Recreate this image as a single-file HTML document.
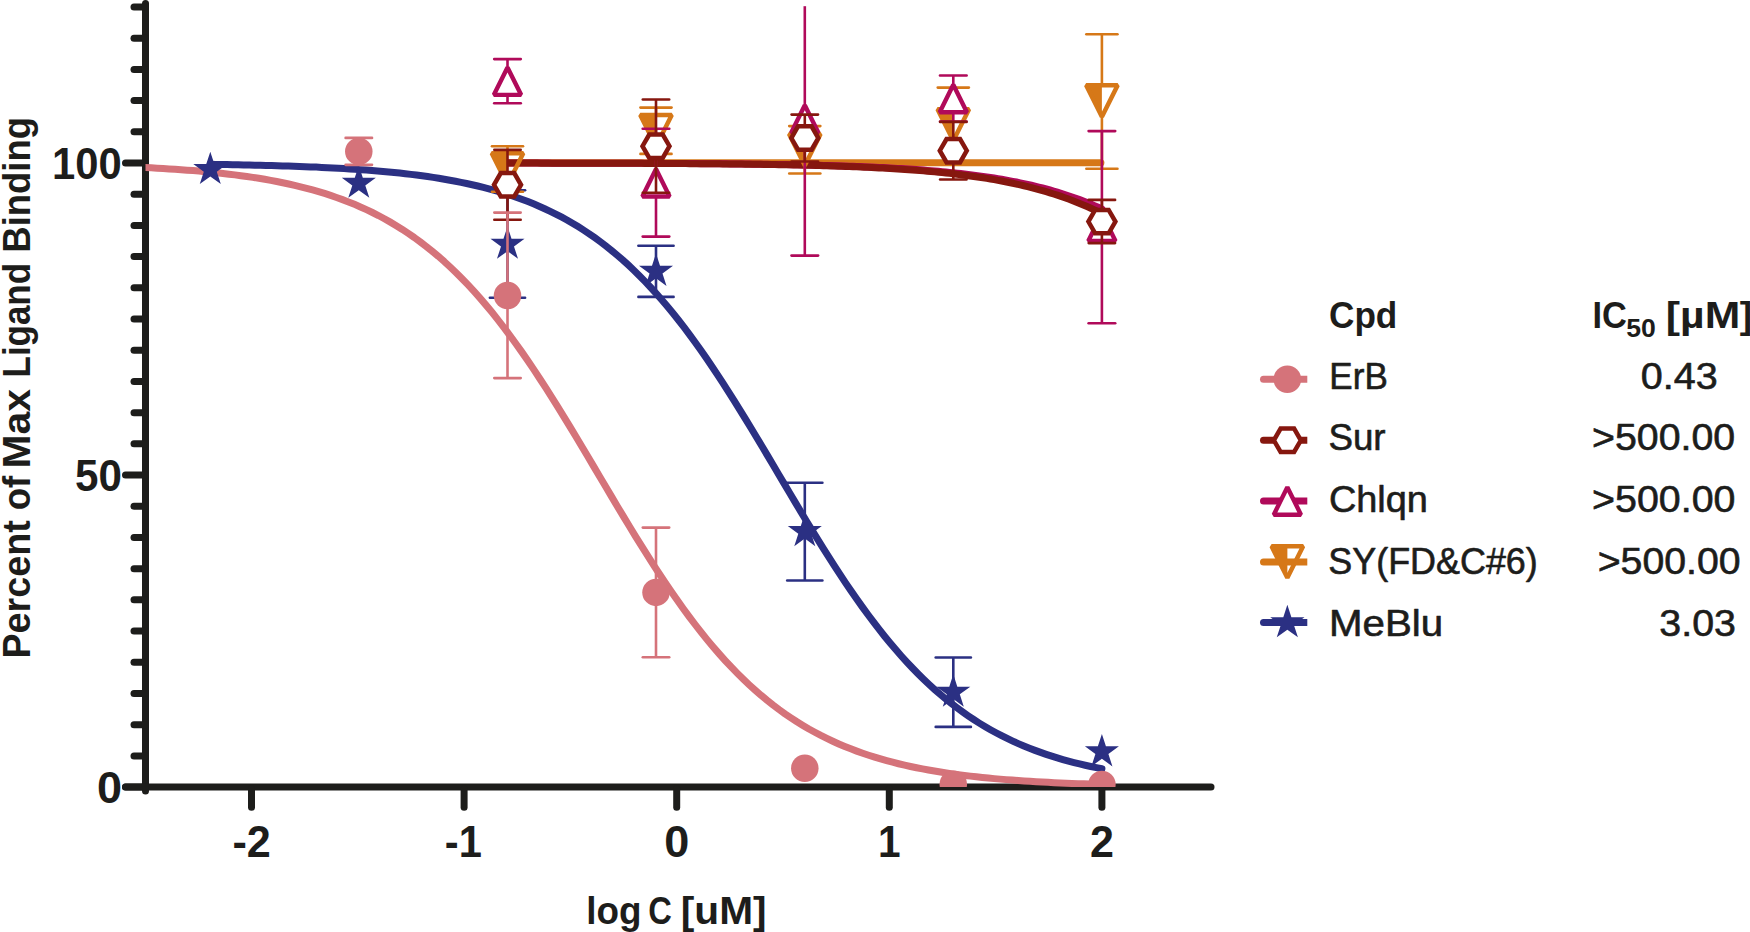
<!DOCTYPE html>
<html lang="en"><head><meta charset="utf-8"><title>Dose-response curves</title>
<style>html,body{margin:0;padding:0;background:#fff;overflow:hidden}svg{display:block}</style></head>
<body>
<svg width="1750" height="932" viewBox="0 0 1750 932">
<defs><clipPath id="plot"><rect x="145.5" y="-20" width="1200" height="807.10"/></clipPath></defs>
<rect width="1750" height="932" fill="#fff"/>
<g stroke="#1d1d1b" stroke-width="7.0" stroke-linecap="round" fill="none">
<line x1="145.5" y1="3.5" x2="145.5" y2="791.1"/>
<line x1="125.5" y1="787.1" x2="1211.0" y2="787.1"/>
<line x1="125.5" y1="787.10" x2="145.5" y2="787.10"/>
<line x1="134.0" y1="755.89" x2="145.5" y2="755.89"/>
<line x1="134.0" y1="724.69" x2="145.5" y2="724.69"/>
<line x1="134.0" y1="693.49" x2="145.5" y2="693.49"/>
<line x1="134.0" y1="662.28" x2="145.5" y2="662.28"/>
<line x1="134.0" y1="631.08" x2="145.5" y2="631.08"/>
<line x1="134.0" y1="599.87" x2="145.5" y2="599.87"/>
<line x1="134.0" y1="568.66" x2="145.5" y2="568.66"/>
<line x1="134.0" y1="537.46" x2="145.5" y2="537.46"/>
<line x1="134.0" y1="506.26" x2="145.5" y2="506.26"/>
<line x1="125.5" y1="475.05" x2="145.5" y2="475.05"/>
<line x1="134.0" y1="443.85" x2="145.5" y2="443.85"/>
<line x1="134.0" y1="412.64" x2="145.5" y2="412.64"/>
<line x1="134.0" y1="381.44" x2="145.5" y2="381.44"/>
<line x1="134.0" y1="350.23" x2="145.5" y2="350.23"/>
<line x1="134.0" y1="319.03" x2="145.5" y2="319.03"/>
<line x1="134.0" y1="287.82" x2="145.5" y2="287.82"/>
<line x1="134.0" y1="256.62" x2="145.5" y2="256.62"/>
<line x1="134.0" y1="225.41" x2="145.5" y2="225.41"/>
<line x1="134.0" y1="194.21" x2="145.5" y2="194.21"/>
<line x1="125.5" y1="163.00" x2="145.5" y2="163.00"/>
<line x1="134.0" y1="131.80" x2="145.5" y2="131.80"/>
<line x1="134.0" y1="100.59" x2="145.5" y2="100.59"/>
<line x1="134.0" y1="69.39" x2="145.5" y2="69.39"/>
<line x1="134.0" y1="38.18" x2="145.5" y2="38.18"/>
<line x1="134.0" y1="6.98" x2="145.5" y2="6.98"/>
<line x1="251.50" y1="789.1" x2="251.50" y2="807.3"/>
<line x1="464.10" y1="789.1" x2="464.10" y2="807.3"/>
<line x1="676.70" y1="789.1" x2="676.70" y2="807.3"/>
<line x1="889.30" y1="789.1" x2="889.30" y2="807.3"/>
<line x1="1101.90" y1="789.1" x2="1101.90" y2="807.3"/>
</g>
<g clip-path="url(#plot)">
<g fill="none" stroke-width="7.0" stroke-linecap="round" stroke-linejoin="round">
<path d="M210.29,164.32 L215.87,164.40 L221.44,164.48 L227.01,164.58 L232.58,164.67 L238.16,164.78 L243.73,164.89 L249.30,165.01 L254.87,165.13 L260.45,165.26 L266.02,165.40 L271.59,165.55 L277.16,165.71 L282.74,165.88 L288.31,166.05 L293.88,166.24 L299.45,166.44 L305.03,166.66 L310.60,166.88 L316.17,167.12 L321.74,167.38 L327.32,167.65 L332.89,167.93 L338.46,168.24 L344.03,168.56 L349.61,168.90 L355.18,169.27 L360.75,169.65 L366.32,170.06 L371.90,170.50 L377.47,170.96 L383.04,171.45 L388.62,171.96 L394.19,172.51 L399.76,173.10 L405.33,173.71 L410.91,174.37 L416.48,175.06 L422.05,175.80 L427.62,176.57 L433.20,177.40 L438.77,178.27 L444.34,179.20 L449.91,180.18 L455.49,181.22 L461.06,182.31 L466.63,183.48 L472.20,184.71 L477.78,186.01 L483.35,187.38 L488.92,188.84 L494.49,190.37 L500.07,192.00 L505.64,193.71 L511.21,195.52 L516.78,197.44 L522.36,199.45 L527.93,201.58 L533.50,203.82 L539.07,206.19 L544.65,208.68 L550.22,211.30 L555.79,214.06 L561.36,216.96 L566.94,220.01 L572.51,223.22 L578.08,226.58 L583.65,230.11 L589.23,233.81 L594.80,237.69 L600.37,241.75 L605.94,246.00 L611.52,250.44 L617.09,255.08 L622.66,259.91 L628.23,264.96 L633.81,270.21 L639.38,275.68 L644.95,281.36 L650.52,287.26 L656.10,293.37 L661.67,299.70 L667.24,306.26 L672.81,313.03 L678.39,320.01 L683.96,327.21 L689.53,334.62 L695.10,342.23 L700.68,350.04 L706.25,358.04 L711.82,366.22 L717.39,374.58 L722.97,383.10 L728.54,391.77 L734.11,400.58 L739.69,409.53 L745.26,418.58 L750.83,427.74 L756.40,436.98 L761.98,446.29 L767.55,455.65 L773.12,465.04 L778.69,474.45 L784.27,483.87 L789.84,493.27 L795.41,502.63 L800.98,511.95 L806.56,521.20 L812.13,530.36 L817.70,539.43 L823.27,548.39 L828.85,557.22 L834.42,565.91 L839.99,574.45 L845.56,582.83 L851.14,591.04 L856.71,599.06 L862.28,606.89 L867.85,614.53 L873.43,621.96 L879.00,629.19 L884.57,636.20 L890.14,643.00 L895.72,649.58 L901.29,655.94 L906.86,662.08 L912.43,668.01 L918.01,673.72 L923.58,679.21 L929.15,684.49 L934.72,689.56 L940.30,694.42 L945.87,699.09 L951.44,703.55 L957.01,707.82 L962.59,711.91 L968.16,715.81 L973.73,719.53 L979.30,723.08 L984.88,726.47 L990.45,729.69 L996.02,732.76 L1001.59,735.68 L1007.17,738.46 L1012.74,741.10 L1018.31,743.60 L1023.88,745.98 L1029.46,748.24 L1035.03,750.38 L1040.60,752.41 L1046.17,754.34 L1051.75,756.16 L1057.32,757.89 L1062.89,759.53 L1068.46,761.07 L1074.04,762.54 L1079.61,763.92 L1085.18,765.23 L1090.75,766.47 L1096.33,767.64 L1101.90,768.75" stroke="#2b3083"/>
<path d="M507.5,162.70 L1100.9,162.70" stroke="#d67818"/>
<path d="M507.50,163.08 L511.21,163.08 L514.93,163.09 L518.64,163.09 L522.36,163.09 L526.07,163.10 L529.79,163.10 L533.50,163.11 L537.22,163.11 L540.93,163.11 L544.65,163.12 L548.36,163.12 L552.08,163.13 L555.79,163.13 L559.51,163.14 L563.22,163.15 L566.94,163.15 L570.65,163.16 L574.37,163.16 L578.08,163.17 L581.80,163.18 L585.51,163.18 L589.23,163.19 L592.94,163.20 L596.66,163.21 L600.37,163.22 L604.09,163.23 L607.80,163.23 L611.52,163.24 L615.23,163.25 L618.95,163.27 L622.66,163.28 L626.38,163.29 L630.09,163.30 L633.81,163.31 L637.52,163.32 L641.24,163.34 L644.95,163.35 L648.67,163.37 L652.38,163.38 L656.10,163.40 L659.81,163.41 L663.53,163.43 L667.24,163.45 L670.96,163.47 L674.67,163.48 L678.39,163.50 L682.10,163.53 L685.82,163.55 L689.53,163.57 L693.25,163.59 L696.96,163.62 L700.68,163.64 L704.39,163.67 L708.11,163.70 L711.82,163.72 L715.54,163.75 L719.25,163.78 L722.97,163.82 L726.68,163.85 L730.40,163.89 L734.11,163.92 L737.83,163.96 L741.54,164.00 L745.26,164.04 L748.97,164.08 L752.69,164.13 L756.40,164.17 L760.12,164.22 L763.83,164.27 L767.55,164.32 L771.26,164.38 L774.98,164.43 L778.69,164.49 L782.41,164.55 L786.12,164.62 L789.84,164.68 L793.55,164.75 L797.27,164.82 L800.98,164.90 L804.70,164.98 L808.41,165.06 L812.13,165.14 L815.84,165.23 L819.56,165.32 L823.27,165.42 L826.99,165.51 L830.70,165.62 L834.42,165.72 L838.13,165.84 L841.85,165.95 L845.56,166.07 L849.28,166.20 L852.99,166.33 L856.71,166.46 L860.42,166.61 L864.14,166.75 L867.85,166.91 L871.57,167.06 L875.28,167.23 L879.00,167.40 L882.71,167.58 L886.43,167.77 L890.14,167.96 L893.86,168.17 L897.57,168.38 L901.29,168.59 L905.00,168.82 L908.72,169.06 L912.43,169.30 L916.15,169.56 L919.86,169.83 L923.58,170.10 L927.29,170.39 L931.01,170.69 L934.72,171.00 L938.44,171.33 L942.15,171.67 L945.87,172.02 L949.58,172.38 L953.30,172.76 L957.01,173.15 L960.73,173.56 L964.44,173.99 L968.16,174.43 L971.87,174.89 L975.59,175.37 L979.30,175.87 L983.02,176.39 L986.73,176.92 L990.45,177.48 L994.16,178.06 L997.88,178.67 L1001.59,179.29 L1005.31,179.94 L1009.02,180.62 L1012.74,181.32 L1016.45,182.05 L1020.17,182.81 L1023.88,183.59 L1027.60,184.41 L1031.31,185.26 L1035.03,186.14 L1038.74,187.05 L1042.46,188.00 L1046.17,188.98 L1049.89,190.00 L1053.60,191.06 L1057.32,192.16 L1061.03,193.30 L1064.75,194.48 L1068.46,195.70 L1072.18,196.97 L1075.89,198.29 L1079.61,199.65 L1083.32,201.07 L1087.04,202.53 L1090.75,204.05 L1094.47,205.62 L1098.18,207.24 L1101.90,208.93" stroke="#b00a5a"/>
<path d="M507.50,163.09 L511.21,163.09 L514.93,163.10 L518.64,163.10 L522.36,163.10 L526.07,163.11 L529.79,163.11 L533.50,163.12 L537.22,163.12 L540.93,163.13 L544.65,163.13 L548.36,163.14 L552.08,163.14 L555.79,163.15 L559.51,163.15 L563.22,163.16 L566.94,163.17 L570.65,163.17 L574.37,163.18 L578.08,163.19 L581.80,163.20 L585.51,163.20 L589.23,163.21 L592.94,163.22 L596.66,163.23 L600.37,163.24 L604.09,163.25 L607.80,163.26 L611.52,163.27 L615.23,163.28 L618.95,163.29 L622.66,163.31 L626.38,163.32 L630.09,163.33 L633.81,163.35 L637.52,163.36 L641.24,163.37 L644.95,163.39 L648.67,163.41 L652.38,163.42 L656.10,163.44 L659.81,163.46 L663.53,163.48 L667.24,163.50 L670.96,163.52 L674.67,163.54 L678.39,163.56 L682.10,163.58 L685.82,163.61 L689.53,163.63 L693.25,163.66 L696.96,163.68 L700.68,163.71 L704.39,163.74 L708.11,163.77 L711.82,163.80 L715.54,163.84 L719.25,163.87 L722.97,163.91 L726.68,163.94 L730.40,163.98 L734.11,164.02 L737.83,164.06 L741.54,164.11 L745.26,164.15 L748.97,164.20 L752.69,164.25 L756.40,164.30 L760.12,164.35 L763.83,164.41 L767.55,164.47 L771.26,164.53 L774.98,164.59 L778.69,164.66 L782.41,164.72 L786.12,164.79 L789.84,164.87 L793.55,164.94 L797.27,165.02 L800.98,165.11 L804.70,165.19 L808.41,165.28 L812.13,165.37 L815.84,165.47 L819.56,165.57 L823.27,165.68 L826.99,165.79 L830.70,165.90 L834.42,166.02 L838.13,166.14 L841.85,166.27 L845.56,166.41 L849.28,166.54 L852.99,166.69 L856.71,166.84 L860.42,167.00 L864.14,167.16 L867.85,167.33 L871.57,167.51 L875.28,167.69 L879.00,167.88 L882.71,168.08 L886.43,168.29 L890.14,168.50 L893.86,168.72 L897.57,168.96 L901.29,169.20 L905.00,169.45 L908.72,169.71 L912.43,169.99 L916.15,170.27 L919.86,170.56 L923.58,170.87 L927.29,171.19 L931.01,171.52 L934.72,171.87 L938.44,172.22 L942.15,172.60 L945.87,172.98 L949.58,173.39 L953.30,173.81 L957.01,174.24 L960.73,174.70 L964.44,175.17 L968.16,175.66 L971.87,176.16 L975.59,176.69 L979.30,177.24 L983.02,177.81 L986.73,178.41 L990.45,179.02 L994.16,179.66 L997.88,180.33 L1001.59,181.02 L1005.31,181.74 L1009.02,182.48 L1012.74,183.26 L1016.45,184.06 L1020.17,184.89 L1023.88,185.76 L1027.60,186.66 L1031.31,187.59 L1035.03,188.56 L1038.74,189.56 L1042.46,190.61 L1046.17,191.69 L1049.89,192.81 L1053.60,193.97 L1057.32,195.18 L1061.03,196.43 L1064.75,197.73 L1068.46,199.07 L1072.18,200.46 L1075.89,201.90 L1079.61,203.40 L1083.32,204.94 L1087.04,206.55 L1090.75,208.20 L1094.47,209.92 L1098.18,211.70 L1101.90,213.53" stroke="#86170f"/>
<path d="M145.20,167.56 L151.18,167.86 L157.16,168.18 L163.14,168.52 L169.12,168.89 L175.10,169.28 L181.08,169.70 L187.06,170.14 L193.04,170.61 L199.01,171.11 L204.99,171.65 L210.97,172.22 L216.95,172.83 L222.93,173.47 L228.91,174.16 L234.89,174.89 L240.87,175.67 L246.85,176.50 L252.83,177.38 L258.81,178.32 L264.79,179.32 L270.77,180.38 L276.75,181.51 L282.73,182.71 L288.71,183.98 L294.68,185.34 L300.66,186.78 L306.64,188.30 L312.62,189.92 L318.60,191.64 L324.58,193.46 L330.56,195.40 L336.54,197.44 L342.52,199.61 L348.50,201.91 L354.48,204.34 L360.46,206.91 L366.44,209.63 L372.42,212.50 L378.40,215.53 L384.38,218.73 L390.35,222.11 L396.33,225.67 L402.31,229.41 L408.29,233.36 L414.27,237.50 L420.25,241.86 L426.23,246.43 L432.21,251.22 L438.19,256.24 L444.17,261.49 L450.15,266.99 L456.13,272.72 L462.11,278.70 L468.09,284.93 L474.07,291.41 L480.05,298.14 L486.02,305.12 L492.00,312.35 L497.98,319.83 L503.96,327.56 L509.94,335.53 L515.92,343.73 L521.90,352.15 L527.88,360.80 L533.86,369.65 L539.84,378.70 L545.82,387.93 L551.80,397.32 L557.78,406.87 L563.76,416.56 L569.74,426.37 L575.72,436.27 L581.69,446.26 L587.67,456.30 L593.65,466.39 L599.63,476.49 L605.61,486.59 L611.59,496.66 L617.57,506.69 L623.55,516.65 L629.53,526.53 L635.51,536.31 L641.49,545.96 L647.47,555.47 L653.45,564.82 L659.43,574.00 L665.41,582.99 L671.39,591.78 L677.36,600.37 L683.34,608.73 L689.32,616.86 L695.30,624.76 L701.28,632.42 L707.26,639.83 L713.24,646.99 L719.22,653.90 L725.20,660.56 L731.18,666.97 L737.16,673.13 L743.14,679.04 L749.12,684.70 L755.10,690.12 L761.08,695.31 L767.06,700.27 L773.03,704.99 L779.01,709.50 L784.99,713.80 L790.97,717.88 L796.95,721.77 L802.93,725.46 L808.91,728.97 L814.89,732.29 L820.87,735.45 L826.85,738.43 L832.83,741.26 L838.81,743.94 L844.79,746.47 L850.77,748.86 L856.75,751.12 L862.73,753.25 L868.70,755.27 L874.68,757.17 L880.66,758.96 L886.64,760.65 L892.62,762.24 L898.60,763.74 L904.58,765.16 L910.56,766.49 L916.54,767.74 L922.52,768.92 L928.50,770.03 L934.48,771.07 L940.46,772.05 L946.44,772.97 L952.42,773.84 L958.40,774.65 L964.37,775.42 L970.35,776.14 L976.33,776.82 L982.31,777.45 L988.29,778.05 L994.27,778.61 L1000.25,779.13 L1006.23,779.63 L1012.21,780.09 L1018.19,780.52 L1024.17,780.93 L1030.15,781.32 L1036.13,781.68 L1042.11,782.01 L1048.09,782.33 L1054.07,782.63 L1060.04,782.91 L1066.02,783.17 L1072.00,783.41 L1077.98,783.64 L1083.96,783.86 L1089.94,784.06 L1095.92,784.25 L1101.90,784.43" stroke="#d5737a"/>
</g>
<g stroke="#2b3083" stroke-width="2.6" stroke-linecap="round" fill="none"><line x1="507.5" y1="190.30" x2="507.5" y2="297.70" stroke-linecap="butt"/><line x1="489.90" y1="190.30" x2="525.10" y2="190.30"/><line x1="489.90" y1="297.70" x2="525.10" y2="297.70"/></g>
<g stroke="#2b3083" stroke-width="2.6" stroke-linecap="round" fill="none"><line x1="656.0" y1="245.70" x2="656.0" y2="296.90" stroke-linecap="butt"/><line x1="638.40" y1="245.70" x2="673.60" y2="245.70"/><line x1="638.40" y1="296.90" x2="673.60" y2="296.90"/></g>
<g stroke="#2b3083" stroke-width="2.6" stroke-linecap="round" fill="none"><line x1="804.8" y1="482.80" x2="804.8" y2="580.50" stroke-linecap="butt"/><line x1="787.20" y1="482.80" x2="822.40" y2="482.80"/><line x1="787.20" y1="580.50" x2="822.40" y2="580.50"/></g>
<g stroke="#2b3083" stroke-width="2.6" stroke-linecap="round" fill="none"><line x1="953.3" y1="657.50" x2="953.3" y2="726.90" stroke-linecap="butt"/><line x1="935.70" y1="657.50" x2="970.90" y2="657.50"/><line x1="935.70" y1="726.90" x2="970.90" y2="726.90"/></g>
<polygon points="210.30,151.65 214.32,164.02 227.32,164.02 216.80,171.66 220.82,184.03 210.30,176.39 199.78,184.03 203.80,171.66 193.28,164.02 206.28,164.02" fill="#2b3083"/>
<polygon points="358.80,165.40 362.82,177.77 375.82,177.77 365.30,185.41 369.32,197.78 358.80,190.14 348.28,197.78 352.30,185.41 341.78,177.77 354.78,177.77" fill="#2b3083"/>
<polygon points="507.50,226.40 511.52,238.77 524.52,238.77 514.00,246.41 518.02,258.78 507.50,251.14 496.98,258.78 501.00,246.41 490.48,238.77 503.48,238.77" fill="#2b3083"/>
<polygon points="656.00,253.50 660.02,265.87 673.02,265.87 662.50,273.51 666.52,285.88 656.00,278.24 645.48,285.88 649.50,273.51 638.98,265.87 651.98,265.87" fill="#2b3083"/>
<polygon points="804.80,513.75 808.82,526.12 821.82,526.12 811.30,533.76 815.32,546.13 804.80,538.49 794.28,546.13 798.30,533.76 787.78,526.12 800.78,526.12" fill="#2b3083"/>
<polygon points="953.30,674.30 957.32,686.67 970.32,686.67 959.80,694.31 963.82,706.68 953.30,699.04 942.78,706.68 946.80,694.31 936.28,686.67 949.28,686.67" fill="#2b3083"/>
<polygon points="1101.90,734.00 1105.92,746.37 1118.92,746.37 1108.40,754.01 1112.42,766.38 1101.90,758.74 1091.38,766.38 1095.40,754.01 1084.88,746.37 1097.88,746.37" fill="#2b3083"/>
<g stroke="#d67818" stroke-width="2.6" stroke-linecap="round" fill="none"><line x1="507.5" y1="146.30" x2="507.5" y2="155.00" stroke-linecap="butt"/><line x1="507.5" y1="183.00" x2="507.5" y2="191.70" stroke-linecap="butt"/><line x1="491.95" y1="146.30" x2="523.05" y2="146.30"/><line x1="491.95" y1="191.70" x2="523.05" y2="191.70"/></g>
<g stroke="#d67818" stroke-width="2.6" stroke-linecap="round" fill="none"><line x1="656.0" y1="107.60" x2="656.0" y2="116.70" stroke-linecap="butt"/><line x1="656.0" y1="144.70" x2="656.0" y2="153.90" stroke-linecap="butt"/><line x1="640.45" y1="107.60" x2="671.55" y2="107.60"/><line x1="640.45" y1="153.90" x2="671.55" y2="153.90"/></g>
<g stroke="#d67818" stroke-width="2.6" stroke-linecap="round" fill="none"><line x1="804.8" y1="126.10" x2="804.8" y2="135.80" stroke-linecap="butt"/><line x1="804.8" y1="163.80" x2="804.8" y2="173.50" stroke-linecap="butt"/><line x1="789.25" y1="126.10" x2="820.35" y2="126.10"/><line x1="789.25" y1="173.50" x2="820.35" y2="173.50"/></g>
<g stroke="#d67818" stroke-width="2.6" stroke-linecap="round" fill="none"><line x1="953.3" y1="87.60" x2="953.3" y2="111.00" stroke-linecap="butt"/><line x1="953.3" y1="139.00" x2="953.3" y2="162.40" stroke-linecap="butt"/><line x1="937.75" y1="87.60" x2="968.85" y2="87.60"/><line x1="937.75" y1="162.40" x2="968.85" y2="162.40"/></g>
<g stroke="#d67818" stroke-width="2.6" stroke-linecap="round" fill="none"><line x1="1101.9" y1="34.30" x2="1101.9" y2="87.00" stroke-linecap="butt"/><line x1="1101.9" y1="115.00" x2="1101.9" y2="168.70" stroke-linecap="butt"/><line x1="1086.35" y1="34.30" x2="1117.45" y2="34.30"/><line x1="1086.35" y1="168.70" x2="1117.45" y2="168.70"/></g>
<polygon points="491.75,153.25 507.50,153.25 507.50,184.75" fill="#d67818"/><polygon points="491.75,153.25 523.25,153.25 507.50,184.75" fill="none" stroke="#d67818" stroke-width="4.5" stroke-linejoin="bevel"/>
<polygon points="640.25,114.95 656.00,114.95 656.00,146.45" fill="#d67818"/><polygon points="640.25,114.95 671.75,114.95 656.00,146.45" fill="none" stroke="#d67818" stroke-width="4.5" stroke-linejoin="bevel"/>
<polygon points="789.05,134.05 804.80,134.05 804.80,165.55" fill="#d67818"/><polygon points="789.05,134.05 820.55,134.05 804.80,165.55" fill="none" stroke="#d67818" stroke-width="4.5" stroke-linejoin="bevel"/>
<polygon points="937.55,109.25 953.30,109.25 953.30,140.75" fill="#d67818"/><polygon points="937.55,109.25 969.05,109.25 953.30,140.75" fill="none" stroke="#d67818" stroke-width="4.5" stroke-linejoin="bevel"/>
<polygon points="1086.15,85.25 1101.90,85.25 1101.90,116.75" fill="#d67818"/><polygon points="1086.15,85.25 1117.65,85.25 1101.90,116.75" fill="none" stroke="#d67818" stroke-width="4.5" stroke-linejoin="bevel"/>
<g stroke="#b00a5a" stroke-width="2.6" stroke-linecap="round" fill="none"><line x1="507.5" y1="59.10" x2="507.5" y2="103.20" stroke-linecap="butt"/><line x1="494.20" y1="59.10" x2="520.80" y2="59.10"/><line x1="494.20" y1="103.20" x2="520.80" y2="103.20"/></g>
<g stroke="#b00a5a" stroke-width="2.6" stroke-linecap="round" fill="none"><line x1="656.0" y1="128.80" x2="656.0" y2="236.60" stroke-linecap="butt"/><line x1="642.70" y1="128.80" x2="669.30" y2="128.80"/><line x1="642.70" y1="236.60" x2="669.30" y2="236.60"/></g>
<g stroke="#b00a5a" stroke-width="2.6" stroke-linecap="round" fill="none"><line x1="804.8" y1="6.20" x2="804.8" y2="255.60" stroke-linecap="butt"/><line x1="791.50" y1="255.60" x2="818.10" y2="255.60"/></g>
<g stroke="#b00a5a" stroke-width="2.6" stroke-linecap="round" fill="none"><line x1="953.3" y1="75.50" x2="953.3" y2="121.60" stroke-linecap="butt"/><line x1="940.00" y1="75.50" x2="966.60" y2="75.50"/><line x1="940.00" y1="121.60" x2="966.60" y2="121.60"/></g>
<g stroke="#b00a5a" stroke-width="2.6" stroke-linecap="round" fill="none"><line x1="1101.9" y1="131.10" x2="1101.9" y2="323.30" stroke-linecap="butt"/><line x1="1088.60" y1="131.10" x2="1115.20" y2="131.10"/><line x1="1088.60" y1="323.30" x2="1115.20" y2="323.30"/></g>
<polygon points="507.50,67.45 521.10,94.85 493.90,94.85" fill="#fff" stroke="#b00a5a" stroke-width="4.4" stroke-linejoin="bevel"/>
<polygon points="656.00,169.10 669.60,196.50 642.40,196.50" fill="#fff" stroke="#b00a5a" stroke-width="4.4" stroke-linejoin="bevel"/>
<polygon points="804.80,105.35 818.40,132.75 791.20,132.75" fill="#fff" stroke="#b00a5a" stroke-width="4.4" stroke-linejoin="bevel"/>
<polygon points="953.30,84.85 966.90,112.25 939.70,112.25" fill="#fff" stroke="#b00a5a" stroke-width="4.4" stroke-linejoin="bevel"/>
<polygon points="1101.90,213.50 1115.50,240.90 1088.30,240.90" fill="#fff" stroke="#b00a5a" stroke-width="4.4" stroke-linejoin="bevel"/>
<g stroke="#86170f" stroke-width="2.6" stroke-linecap="round" fill="none"><line x1="507.5" y1="149.85" x2="507.5" y2="219.70" stroke-linecap="butt"/><line x1="494.30" y1="149.85" x2="520.70" y2="149.85"/><line x1="494.30" y1="219.70" x2="520.70" y2="219.70"/></g>
<g stroke="#86170f" stroke-width="2.6" stroke-linecap="round" fill="none"><line x1="656.0" y1="99.50" x2="656.0" y2="192.70" stroke-linecap="butt"/><line x1="642.80" y1="99.50" x2="669.20" y2="99.50"/><line x1="642.80" y1="192.70" x2="669.20" y2="192.70"/></g>
<g stroke="#86170f" stroke-width="2.6" stroke-linecap="round" fill="none"><line x1="804.8" y1="114.60" x2="804.8" y2="161.50" stroke-linecap="butt"/><line x1="791.60" y1="114.60" x2="818.00" y2="114.60"/><line x1="791.60" y1="161.50" x2="818.00" y2="161.50"/></g>
<g stroke="#86170f" stroke-width="2.6" stroke-linecap="round" fill="none"><line x1="953.3" y1="121.90" x2="953.3" y2="179.50" stroke-linecap="butt"/><line x1="940.10" y1="121.90" x2="966.50" y2="121.90"/><line x1="940.10" y1="179.50" x2="966.50" y2="179.50"/></g>
<g stroke="#86170f" stroke-width="2.6" stroke-linecap="round" fill="none"><line x1="1101.9" y1="199.90" x2="1101.9" y2="243.10" stroke-linecap="butt"/><line x1="1088.70" y1="199.90" x2="1115.10" y2="199.90"/><line x1="1088.70" y1="243.10" x2="1115.10" y2="243.10"/></g>
<polygon points="521.00,184.80 514.25,196.49 500.75,196.49 494.00,184.80 500.75,173.11 514.25,173.11" fill="#fff" stroke="#86170f" stroke-width="4.5" stroke-linejoin="miter"/>
<polygon points="669.50,146.20 662.75,157.89 649.25,157.89 642.50,146.20 649.25,134.51 662.75,134.51" fill="#fff" stroke="#86170f" stroke-width="4.5" stroke-linejoin="miter"/>
<polygon points="818.30,138.05 811.55,149.74 798.05,149.74 791.30,138.05 798.05,126.36 811.55,126.36" fill="#fff" stroke="#86170f" stroke-width="4.5" stroke-linejoin="miter"/>
<polygon points="966.80,150.70 960.05,162.39 946.55,162.39 939.80,150.70 946.55,139.01 960.05,139.01" fill="#fff" stroke="#86170f" stroke-width="4.5" stroke-linejoin="miter"/>
<polygon points="1115.40,221.60 1108.65,233.29 1095.15,233.29 1088.40,221.60 1095.15,209.91 1108.65,209.91" fill="#fff" stroke="#86170f" stroke-width="4.5" stroke-linejoin="miter"/>
<g stroke="#d5737a" stroke-width="2.6" stroke-linecap="round" fill="none"><line x1="358.8" y1="137.90" x2="358.8" y2="164.85" stroke-linecap="butt"/><line x1="345.60" y1="137.90" x2="372.00" y2="137.90"/><line x1="345.60" y1="164.85" x2="372.00" y2="164.85"/></g>
<g stroke="#d5737a" stroke-width="2.6" stroke-linecap="round" fill="none"><line x1="507.5" y1="212.60" x2="507.5" y2="378.10" stroke-linecap="butt"/><line x1="494.30" y1="212.60" x2="520.70" y2="212.60"/><line x1="494.30" y1="378.10" x2="520.70" y2="378.10"/></g>
<g stroke="#d5737a" stroke-width="2.6" stroke-linecap="round" fill="none"><line x1="656.0" y1="527.60" x2="656.0" y2="657.30" stroke-linecap="butt"/><line x1="642.80" y1="527.60" x2="669.20" y2="527.60"/><line x1="642.80" y1="657.30" x2="669.20" y2="657.30"/></g>
<circle cx="358.8" cy="151.40" r="13.75" fill="#d5737a"/>
<circle cx="507.5" cy="295.50" r="13.75" fill="#d5737a"/>
<circle cx="656.0" cy="592.40" r="13.75" fill="#d5737a"/>
<circle cx="804.8" cy="768.20" r="13.75" fill="#d5737a"/>
<circle cx="953.3" cy="784.20" r="13.75" fill="#d5737a"/>
<circle cx="1101.9" cy="784.50" r="13.75" fill="#d5737a"/>
</g>
<g>
<defs><clipPath id="lg"><rect x="1250" y="340" width="57.3" height="320"/></clipPath></defs>
<line x1="1263.5" y1="379.3" x2="1312" y2="379.3" stroke="#d5737a" stroke-width="7" stroke-linecap="round" clip-path="url(#lg)"/>
<circle cx="1287.35" cy="379.30" r="13.8" fill="#d5737a"/>
<line x1="1263.5" y1="440.3" x2="1312" y2="440.3" stroke="#86170f" stroke-width="7" stroke-linecap="round" clip-path="url(#lg)"/>
<polygon points="1300.85,440.30 1294.10,451.99 1280.60,451.99 1273.85,440.30 1280.60,428.61 1294.10,428.61" fill="#fff" stroke="#86170f" stroke-width="4.5" stroke-linejoin="miter"/>
<line x1="1263.5" y1="501.0" x2="1312" y2="501.0" stroke="#b00a5a" stroke-width="7" stroke-linecap="round" clip-path="url(#lg)"/>
<polygon points="1287.35,487.30 1300.95,514.70 1273.75,514.70" fill="#fff" stroke="#b00a5a" stroke-width="4.4" stroke-linejoin="bevel"/>
<polygon points="1271.60,546.35 1287.35,546.35 1287.35,577.85" fill="#d67818"/><polygon points="1271.60,546.35 1303.10,546.35 1287.35,577.85" fill="none" stroke="#d67818" stroke-width="4.5" stroke-linejoin="bevel"/>
<line x1="1263.5" y1="562.0" x2="1312" y2="562.0" stroke="#d67818" stroke-width="7" stroke-linecap="round" clip-path="url(#lg)"/>
<line x1="1263.5" y1="622.6" x2="1312" y2="622.6" stroke="#2b3083" stroke-width="7" stroke-linecap="round" clip-path="url(#lg)"/>
<polygon points="1287.35,604.80 1291.39,617.24 1304.47,617.24 1293.89,624.92 1297.93,637.36 1287.35,629.68 1276.77,637.36 1280.81,624.92 1270.23,617.24 1283.31,617.24" fill="#2b3083"/>
</g>
<g font-family="'Liberation Sans', sans-serif" fill="#1d1d1b">
<text x="52.01" y="178.8" font-size="44" font-weight="bold" textLength="69.72" lengthAdjust="spacingAndGlyphs">100</text>
<text x="75.08" y="490.9" font-size="44" font-weight="bold" textLength="46.89" lengthAdjust="spacingAndGlyphs">50</text>
<text x="97.00" y="802.9" font-size="44" font-weight="bold" textLength="25.05" lengthAdjust="spacingAndGlyphs">0</text>
<text x="232.43" y="857.0" font-size="44" font-weight="bold" textLength="38.39" lengthAdjust="spacingAndGlyphs">-2</text>
<text x="444.84" y="857.0" font-size="44" font-weight="bold" textLength="37.07" lengthAdjust="spacingAndGlyphs">-1</text>
<text x="664.26" y="857.0" font-size="44" font-weight="bold" textLength="25.08" lengthAdjust="spacingAndGlyphs">0</text>
<text x="878.01" y="857.0" font-size="44" font-weight="bold" textLength="22.61" lengthAdjust="spacingAndGlyphs">1</text>
<text x="1089.90" y="857.0" font-size="44" font-weight="bold" textLength="23.95" lengthAdjust="spacingAndGlyphs">2</text>
<text x="1329.02" y="328.4" font-size="37.5" font-weight="bold" textLength="68.34" lengthAdjust="spacingAndGlyphs">Cpd</text>
<text x="1329.37" y="389.3" font-size="36" font-weight="normal" stroke="#1d1d1b" stroke-width="0.6" stroke-linejoin="round" textLength="58.44" lengthAdjust="spacingAndGlyphs">ErB</text>
<text x="1328.45" y="450.4" font-size="36" font-weight="normal" stroke="#1d1d1b" stroke-width="0.6" stroke-linejoin="round" textLength="57.16" lengthAdjust="spacingAndGlyphs">Sur</text>
<text x="1328.92" y="511.5" font-size="36" font-weight="normal" stroke="#1d1d1b" stroke-width="0.6" stroke-linejoin="round" textLength="99.01" lengthAdjust="spacingAndGlyphs">Chlqn</text>
<text x="1328.30" y="573.7" font-size="36" font-weight="normal" stroke="#1d1d1b" stroke-width="0.6" stroke-linejoin="round" textLength="209.51" lengthAdjust="spacingAndGlyphs">SY(FD&amp;C#6)</text>
<text x="1329.08" y="635.5" font-size="36" font-weight="normal" stroke="#1d1d1b" stroke-width="0.6" stroke-linejoin="round" textLength="114.11" lengthAdjust="spacingAndGlyphs">MeBlu</text>
<text x="1640.76" y="389.3" font-size="36" font-weight="normal" stroke="#1d1d1b" stroke-width="0.6" stroke-linejoin="round" textLength="76.93" lengthAdjust="spacingAndGlyphs">0.43</text>
<text x="1592.02" y="450.4" font-size="36" font-weight="normal" stroke="#1d1d1b" stroke-width="0.6" stroke-linejoin="round" textLength="143.09" lengthAdjust="spacingAndGlyphs">&gt;500.00</text>
<text x="1592.11" y="511.5" font-size="36" font-weight="normal" stroke="#1d1d1b" stroke-width="0.6" stroke-linejoin="round" textLength="143.34" lengthAdjust="spacingAndGlyphs">&gt;500.00</text>
<text x="1597.68" y="573.7" font-size="36" font-weight="normal" stroke="#1d1d1b" stroke-width="0.6" stroke-linejoin="round" textLength="142.94" lengthAdjust="spacingAndGlyphs">&gt;500.00</text>
<text x="1659.33" y="635.5" font-size="36" font-weight="normal" stroke="#1d1d1b" stroke-width="0.6" stroke-linejoin="round" textLength="76.59" lengthAdjust="spacingAndGlyphs">3.03</text>
<text y="924" font-size="38.5" font-weight="bold"><tspan x="586.25" textLength="55.26" lengthAdjust="spacingAndGlyphs">log</tspan> <tspan x="648.21" textLength="23.57" lengthAdjust="spacingAndGlyphs">C</tspan> <tspan x="680.73" textLength="85.86" lengthAdjust="spacingAndGlyphs">[uM]</tspan></text>
<text transform="translate(29.9,656) rotate(-90)" y="0" font-size="38.5" font-weight="bold"><tspan x="-2.59" textLength="138.31" lengthAdjust="spacingAndGlyphs">Percent</tspan> <tspan x="145.81" textLength="34.45" lengthAdjust="spacingAndGlyphs">of</tspan> <tspan x="187.48" textLength="79.55" lengthAdjust="spacingAndGlyphs">Max</tspan> <tspan x="278.61" textLength="114.36" lengthAdjust="spacingAndGlyphs">Ligand</tspan> <tspan x="403.34" textLength="135.58" lengthAdjust="spacingAndGlyphs">Binding</tspan></text>
<text y="328.4" font-size="37.5" font-weight="bold"><tspan x="1592.54" y="328.4" textLength="34.43" lengthAdjust="spacingAndGlyphs">IC</tspan><tspan x="1626.18" y="337.3" font-size="26.5" textLength="29.58" lengthAdjust="spacingAndGlyphs">50</tspan><tspan x="1665.87" y="328.4" textLength="74.33" lengthAdjust="spacingAndGlyphs">[µM</tspan><tspan x="1739.70" y="328.4">]</tspan></text>
</g>
</svg>
</body></html>
